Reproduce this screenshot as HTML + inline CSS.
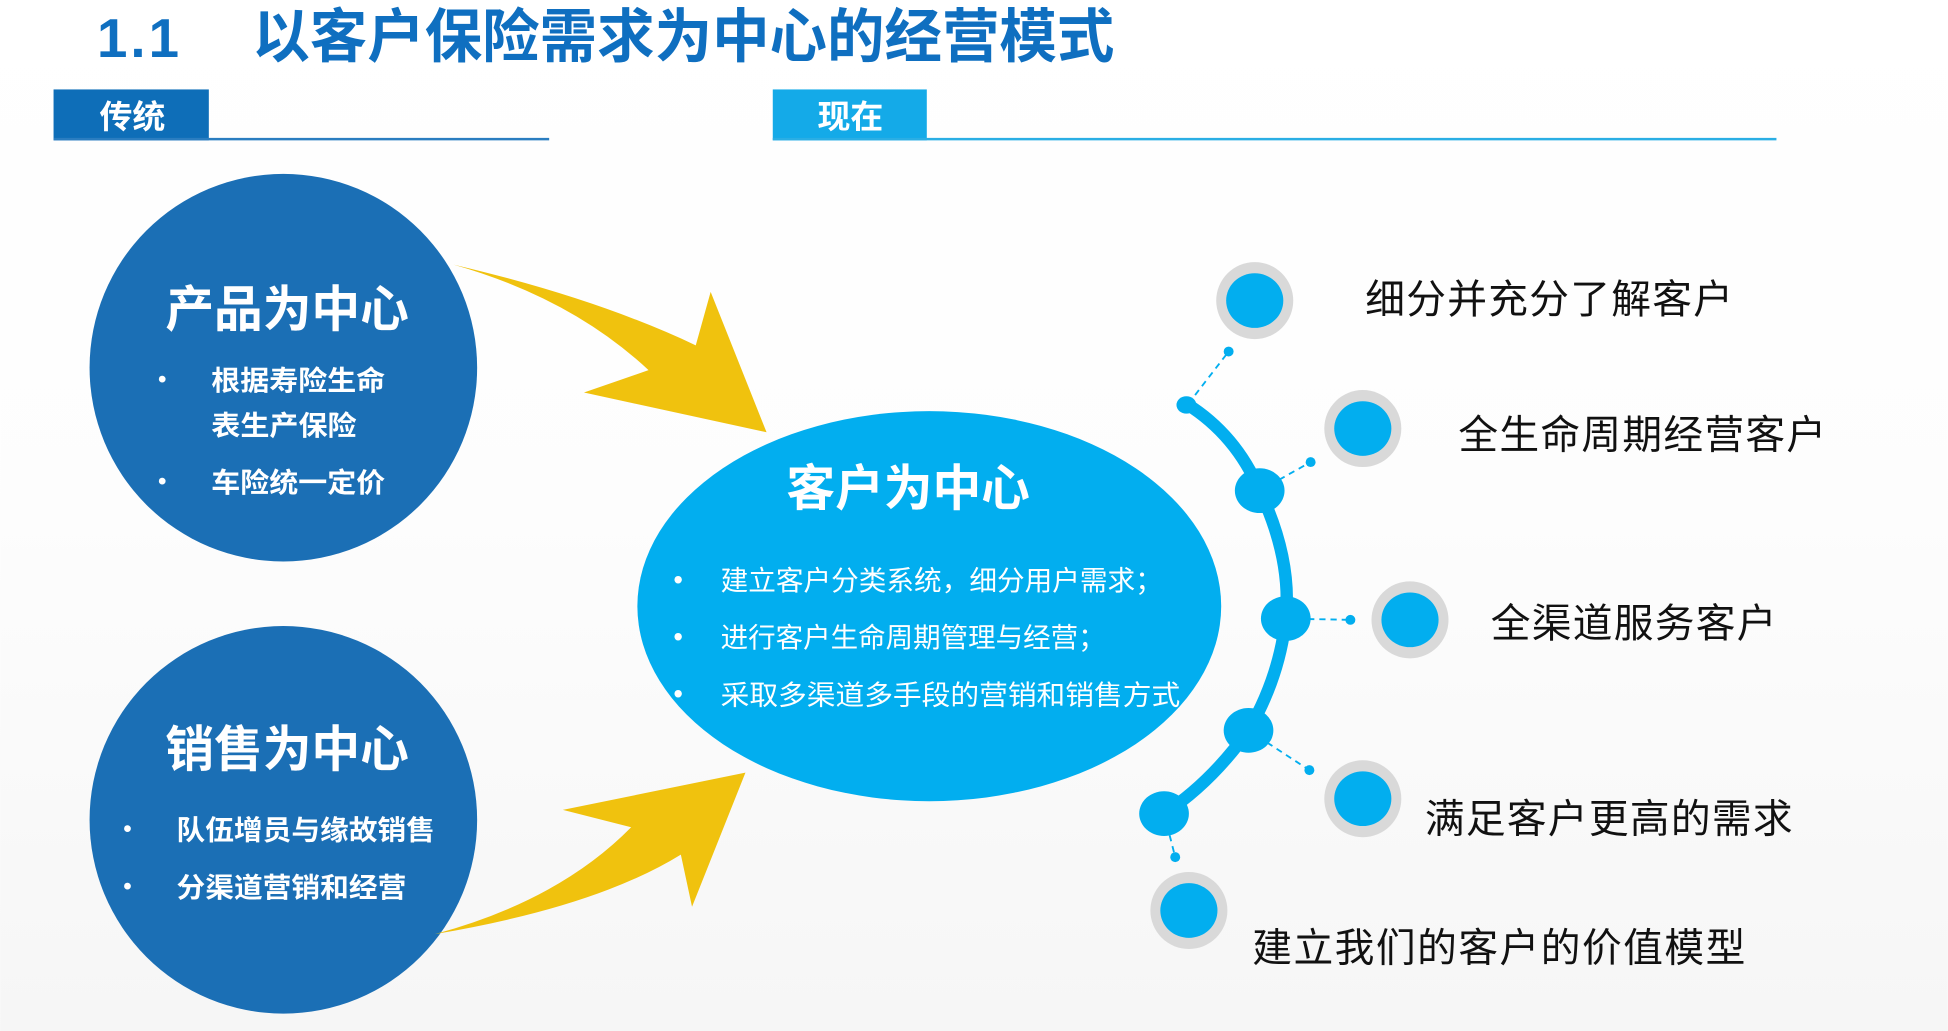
<!DOCTYPE html>
<html><head><meta charset="utf-8"><style>
html,body{margin:0;padding:0;background:#fff;}
svg{display:block;}
text{font-family:"Liberation Sans","Noto Sans CJK SC",sans-serif;}
</style></head><body>
<svg width="1948" height="1031" viewBox="0 0 1568 830" xmlns="http://www.w3.org/2000/svg">
<defs>
<linearGradient id="bg" x1="0" y1="0" x2="0" y2="1">
<stop offset="0" stop-color="#ffffff"/><stop offset="0.5" stop-color="#fdfdfd"/><stop offset="1" stop-color="#f6f6f6"/>
</linearGradient>
</defs>
<rect width="1568" height="830" fill="url(#bg)"/>
<!-- title -->
<text x="78" y="46" font-size="44" font-weight="bold" fill="#0F6FC0" textLength="66">1.1</text>
<text x="203" y="46" font-size="47" font-weight="bold" fill="#0F6FC0" textLength="694" lengthAdjust="spacingAndGlyphs">以客户保险需求为中心的经营模式</text>
<!-- tabs -->
<rect x="43" y="72" width="125" height="41" fill="#0E6EB8"/>
<text x="80" y="103" font-size="26" font-weight="bold" fill="#fff" textLength="53" lengthAdjust="spacingAndGlyphs">传统</text>
<rect x="43" y="111" width="399" height="2" fill="#2A7DC0"/>
<rect x="622" y="72" width="124" height="41" fill="#14AAE8"/>
<text x="658" y="103" font-size="26" font-weight="bold" fill="#fff" textLength="53" lengthAdjust="spacingAndGlyphs">现在</text>
<rect x="622" y="111" width="808" height="2" fill="#2AAEE4"/>
<!-- left circles -->
<circle cx="228" cy="296" r="156" fill="#1B6FB5"/>
<text x="133" y="263" font-size="40" font-weight="bold" fill="#fff" textLength="196" lengthAdjust="spacingAndGlyphs">产品为中心</text>
<text x="127" y="312" font-size="20" fill="#fff">•</text>
<text x="170" y="314" font-size="22" font-weight="bold" fill="#fff" textLength="140" lengthAdjust="spacingAndGlyphs">根据寿险生命</text>
<text x="170" y="350" font-size="22" font-weight="bold" fill="#fff" textLength="117" lengthAdjust="spacingAndGlyphs">表生产保险</text>
<text x="127" y="394" font-size="20" fill="#fff">•</text>
<text x="170" y="396" font-size="22" font-weight="bold" fill="#fff" textLength="140" lengthAdjust="spacingAndGlyphs">车险统一定价</text>
<circle cx="228" cy="660" r="156" fill="#1B6FB5"/>
<text x="133" y="617" font-size="40" font-weight="bold" fill="#fff" textLength="196" lengthAdjust="spacingAndGlyphs">销售为中心</text>
<text x="99" y="674" font-size="20" fill="#fff">•</text>
<text x="142" y="676" font-size="22" font-weight="bold" fill="#fff" textLength="208" lengthAdjust="spacingAndGlyphs">队伍增员与缘故销售</text>
<text x="99" y="720" font-size="20" fill="#fff">•</text>
<text x="142" y="722" font-size="22" font-weight="bold" fill="#fff" textLength="185" lengthAdjust="spacingAndGlyphs">分渠道营销和经营</text>
<!-- yellow arrows -->
<path d="M365,213 Q480,240 560,278 L572,235 L617,348 L470,316 L522,298 Q460,240 365,213 Z" fill="#F0C20E"/>
<path d="M350,752 Q480,730 548,688 L557,730 L600,622 L453,652 L508,666 Q450,725 350,752 Z" fill="#F0C20E"/>
<!-- center ellipse -->
<ellipse cx="748" cy="488" rx="235" ry="157" fill="#02AEEF"/>
<text x="633" y="407" font-size="40" font-weight="bold" fill="#fff" textLength="196" lengthAdjust="spacingAndGlyphs">客户为中心</text>
<g font-size="22" fill="#fff">
<text x="542" y="474">•</text><text x="580" y="475" textLength="356" lengthAdjust="spacingAndGlyphs">建立客户分类系统，细分用户需求；</text>
<text x="542" y="520">•</text><text x="580" y="521" textLength="310" lengthAdjust="spacingAndGlyphs">进行客户生命周期管理与经营；</text>
<text x="542" y="566">•</text><text x="580" y="567" textLength="370" lengthAdjust="spacingAndGlyphs">采取多渠道多手段的营销和销售方式</text>
</g>
<!-- right arc -->
<path d="M955,325 Q995,350 1014,395 Q1040,450 1035,498 Q1030,545 1005,588 Q975,630 937,655" fill="none" stroke="#02AEEF" stroke-width="10" stroke-linecap="round"/>
<g stroke="#02AEEF" stroke-width="1.5" stroke-dasharray="5,4" fill="none">
<line x1="962" y1="318" x2="989" y2="283"/>
<line x1="1014" y1="395" x2="1055" y2="372"/>
<line x1="1035" y1="498" x2="1087" y2="499"/>
<line x1="1005" y1="588" x2="1054" y2="620"/>
<line x1="937" y1="655" x2="946" y2="690"/>
</g>
<g fill="#02AEEF">
<ellipse cx="955" cy="326" rx="8" ry="7"/>
<ellipse cx="1014" cy="395" rx="20" ry="18"/>
<ellipse cx="1035" cy="498" rx="20" ry="18"/>
<ellipse cx="1005" cy="588" rx="20" ry="18"/>
<ellipse cx="937" cy="655" rx="20" ry="18"/>
<circle cx="989" cy="283" r="4"/><circle cx="1055" cy="372" r="4"/><circle cx="1087" cy="499" r="4"/><circle cx="1054" cy="620" r="4"/><circle cx="946" cy="690" r="4"/>
</g>
<g fill="#D9D9D9">
<circle cx="1010" cy="242" r="31"/><circle cx="1097" cy="345" r="31"/><circle cx="1135" cy="499" r="31"/><circle cx="1097" cy="643" r="31"/><circle cx="957" cy="733" r="31"/>
</g>
<g fill="#02AEEF">
<ellipse cx="1010" cy="242" rx="23" ry="22"/><ellipse cx="1097" cy="345" rx="23" ry="22"/><ellipse cx="1135" cy="499" rx="23" ry="22"/><ellipse cx="1097" cy="643" rx="23" ry="22"/><ellipse cx="957" cy="733" rx="23" ry="22"/>
</g>
<g font-size="32" fill="#111">
<text x="1099" y="252" textLength="296">细分并充分了解客户</text>
<text x="1174" y="361" textLength="296">全生命周期经营客户</text>
<text x="1200" y="513" textLength="230">全渠道服务客户</text>
<text x="1147" y="670" textLength="296">满足客户更高的需求</text>
<text x="1008" y="774" textLength="397">建立我们的客户的价值模型</text>
</g>
</svg>
</body></html>
